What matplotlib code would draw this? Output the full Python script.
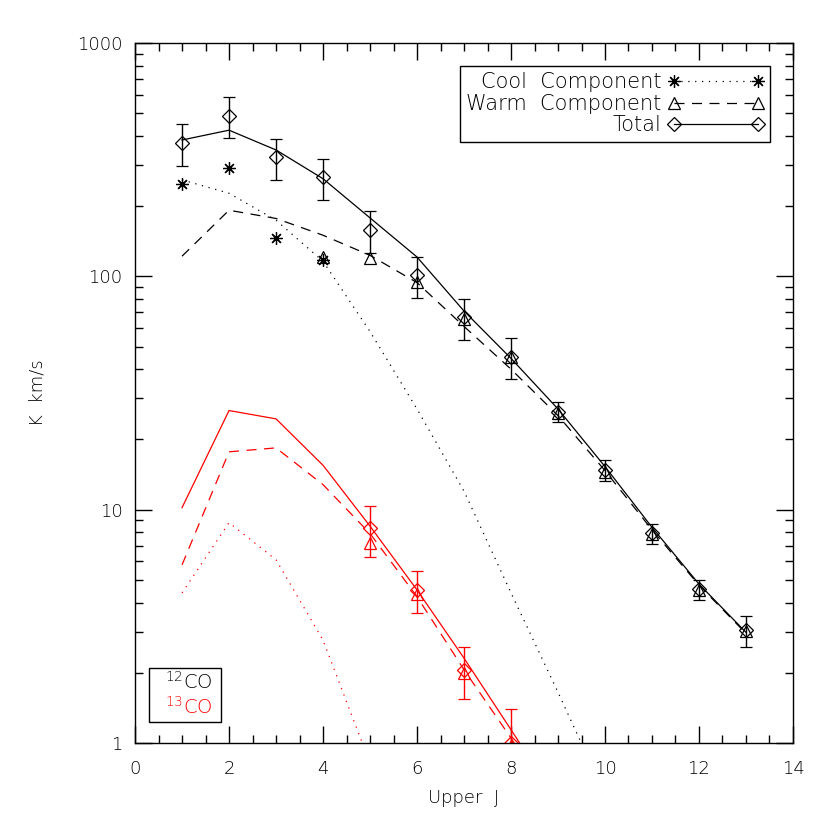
import numpy as np
import matplotlib
matplotlib.use('Agg')
from matplotlib import pyplot as plt
from matplotlib.ticker import FixedLocator, FuncFormatter, LogLocator, NullFormatter
from matplotlib.patches import Rectangle

# model curves (12CO, black)
J = [1, 2, 3, 4, 5, 6, 7, 8, 9, 10, 11, 12, 13]
total12 = [384, 423, 348, 262, 178, 121, 71, 44.5, 27, 15.3, 8.4, 4.8, 2.98]
warm12 = [122, 192, 177, 150, 123, 94, 61, 40, 25.3, 14.7, 8.2, 4.75, 2.95]
cool12 = [259, 227, 174, 116, 58, 27, 12, 4.4, 1.65, 0.6, 0.2, 0.06, 0.02]

# model curves (13CO, red)
total13 = [10.2, 26.6, 24.5, 15.5, 8.5, 4.53, 2.31, 1.14, 0.56, 0.27, 0.12, 0.05, 0.02]
warm13 = [5.8, 17.7, 18.4, 12.8, 7.9, 4.24, 2.06, 1.05, 0.52, 0.25, 0.11, 0.05, 0.02]
cool13 = [4.4, 8.8, 6.1, 2.76, 0.82, 0.2, 0.04, 0.01, 0.002, 0.001, 0.001, 0.001, 0.001]

# observed 12CO
obsJ12 = [1, 2, 3, 4, 5, 6, 7, 8, 9, 10, 11, 12, 13]
obs12 = [373, 487, 324, 266, 158, 101, 66.7, 45.3, 26.3, 14.8, 7.92, 4.56, 3.05]
err12 = [75, 97, 65, 53, 32, 20, 13.3, 9.1, 2.6, 1.5, 0.8, 0.46, 0.46]
coolJ12 = [1, 2, 3, 4]
coolobs12 = [249, 290, 146, 117]
warmJ12 = [4, 5, 6, 7, 8, 9, 10, 11, 12, 13]
warmobs12 = [121, 120, 94.8, 65.5, 45, 26, 14.5, 7.86, 4.52, 3.03]

# observed 13CO
obsJ13 = [5, 6, 7, 8]
obs13 = [8.32, 4.53, 2.06, 1.0]
err13 = [2.08, 0.91, 0.52, 0.4]
warmobs13 = [7.22, 4.33, 2.0, 0.97]

plt.rcParams['font.family'] = 'DejaVu Sans'
plt.rcParams['font.size'] = 13
plt.rcParams['font.weight'] = 'light'
plt.rcParams['axes.labelweight'] = 'light'

fig = plt.figure(figsize=(8.3, 8.3), dpi=100)
ax = fig.add_axes([0.1627, 0.1048, 0.7927, 0.8434])

star = (8, 2, 0)
ms = 8
mew = 0.9
lw = 0.9
dot = (0, (1, 4.5))
dash = (0, (8, 6))

# black curves
ax.plot(J, cool12, color='k', ls=dot, lw=lw)
ax.plot(J, warm12, color='k', ls=dash, lw=lw)
ax.plot(J, total12, color='k', ls='-', lw=lw)
ax.plot(coolJ12, coolobs12, ls='none', marker=star, color='k', ms=9, mew=mew)
ax.plot(warmJ12, warmobs12, ls='none', marker='^', mfc='none', mec='k', ms=ms, mew=mew)
ax.errorbar(obsJ12, obs12, yerr=err12, fmt='D', mfc='none', mec='k', ecolor='k',
            ms=7, mew=mew, elinewidth=1.0, capsize=4.5, capthick=1.0)

# red curves
ax.plot(J, cool13, color='red', ls=dot, lw=lw)
ax.plot(J, warm13, color='red', ls=dash, lw=lw)
ax.plot(J, total13, color='red', ls='-', lw=lw)
ax.plot(obsJ13, warmobs13, ls='none', marker='^', mfc='none', mec='red', ms=ms, mew=mew)
ax.errorbar(obsJ13, obs13, yerr=err13, fmt='D', mfc='none', mec='red', ecolor='red',
            ms=7, mew=mew, elinewidth=1.0, capsize=4.5, capthick=1.0)

ax.set_yscale('log')
ax.set_xlim(0, 14)
ax.set_ylim(1, 1000)
ax.xaxis.set_major_locator(FixedLocator([0, 2, 4, 6, 8, 10, 12, 14]))
ax.xaxis.set_minor_locator(FixedLocator(np.arange(0, 14.01, 0.5)))
ax.yaxis.set_major_locator(FixedLocator([1, 10, 100, 1000]))
ax.yaxis.set_major_formatter(FuncFormatter(lambda v, p: '%d' % v))
ax.yaxis.set_minor_locator(LogLocator(base=10, subs=np.arange(2, 10)))
ax.yaxis.set_minor_formatter(NullFormatter())
ax.tick_params(which='both', direction='in', top=True, right=True, width=1.0)
ax.tick_params(which='major', length=12, pad=9)
ax.tick_params(axis='x', which='major', pad=12)
ax.tick_params(which='minor', length=6)
for s in ax.spines.values():
    s.set_linewidth(1.0)

ax.set_xlabel('Upper  J', labelpad=8)
ax.set_ylabel('K  km/s', labelpad=22)

# legend
h1, = ax.plot([], [], color='k', ls=dot, lw=lw, marker=star, ms=9, mew=mew)
h2, = ax.plot([], [], color='k', ls=dash, lw=lw, marker='^', mfc='none', ms=ms, mew=mew)
h3, = ax.plot([], [], color='k', ls='-', lw=lw, marker='D', mfc='none', ms=7, mew=mew)
leg = ax.legend([h1, h2, h3], ['Cool  Component', 'Warm  Component', 'Total'],
                loc='upper right', markerfirst=False, numpoints=2, handlelength=4.6,
                handletextpad=0.3, labelspacing=0.08, borderaxespad=1.1,
                fancybox=False, edgecolor='k', framealpha=1, borderpad=0.3,
                prop={'size': 15, 'weight': 'light'})
leg.get_frame().set_linewidth(1.0)
for t in leg.get_texts():
    t.set_ha('right')

# isotope box
ax.add_patch(Rectangle((0.0213, 0.03), 0.1094, 0.077, transform=ax.transAxes,
                       fill=False, ec='k', lw=1.0))
ax.text(0.117, 0.088, r'$^{12}$CO', transform=ax.transAxes, ha='right', va='center',
        color='k', fontsize=14)
ax.text(0.117, 0.052, r'$^{13}$CO', transform=ax.transAxes, ha='right', va='center',
        color='red', fontsize=14)

plt.savefig('out.png', dpi=100)
